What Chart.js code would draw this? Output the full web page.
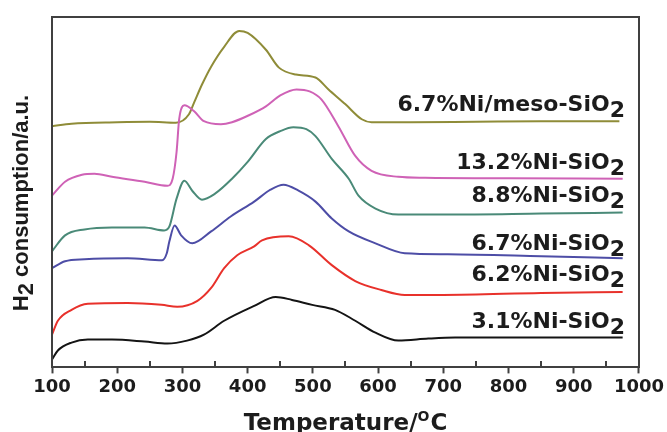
<!DOCTYPE html>
<html>
<head>
<meta charset="utf-8">
<script src="https://cdn.jsdelivr.net/npm/chart.js@4.4.1/dist/chart.umd.min.js"></script>
<style>body { margin: 0; }</style>
</head>
<body>
<canvas id="chart" width="667" height="432"></canvas>
<script>
// Series names (last character "2" is drawn as a subscript)
const names = ['3.1%Ni-SiO2', '6.2%Ni-SiO2', '6.7%Ni-SiO2', '8.8%Ni-SiO2', '13.2%Ni-SiO2', '6.7%Ni/meso-SiO2'];
const colors = ['#141414', '#e8312b', '#4d4da6', '#4a8a78', '#cf62b6', '#8f8c38'];

// Temperatures (°C) and H2 signal (a.u., curves already offset)
const t31 = [100, 109, 130, 155, 192, 242, 277, 307, 333, 364, 410, 443, 468, 499, 534, 565, 596, 631, 677, 718, 850, 975];
const v31 = [8, 17, 25, 28, 28, 26, 24, 27, 33, 47, 62, 71, 68, 63, 58, 47, 35, 27, 29, 30, 30, 30];

const t62 = [100, 109, 130, 155, 216, 268, 292, 323, 344, 364, 384, 410, 422, 463, 494, 529, 565, 605, 641, 700, 850, 975];
const v62 = [33, 47, 58, 64, 65, 63, 61, 67, 80, 100, 113, 122, 128, 132, 123, 103, 87, 78, 73, 73, 75, 76];

const t67 = [100, 120, 150, 216, 269, 276, 280, 288, 298, 315, 344, 374, 410, 435, 455, 478, 504, 529, 555, 596, 641, 707, 850, 975];
const v67 = [100, 107, 109, 110, 108, 115, 127, 143, 133, 125, 137, 152, 167, 179, 184, 178, 167, 150, 137, 125, 115, 114, 112, 110];

const t88 = [100, 120, 150, 192, 242, 272, 280, 291, 303, 315, 330, 350, 376, 400, 428, 450, 470, 490, 504, 529, 555, 570, 596, 631, 707, 850, 975];
const v88 = [117, 133, 139, 141, 141, 138, 142, 170, 188, 178, 169, 175, 190, 207, 230, 238, 242, 240, 233, 210, 190, 173, 160, 154, 154, 155, 156];

const t132 = [100, 120, 146, 165, 192, 242, 277, 285, 291, 295, 303, 318, 333, 359, 376, 402, 428, 450, 475, 495, 513, 539, 565, 590, 631, 672, 800, 975];
const v132 = [173, 187, 194, 195, 192, 187, 183, 190, 217, 250, 264, 258, 248, 245, 247, 254, 263, 274, 280, 278, 270, 243, 213, 198, 192, 191, 190.5, 190];

const tMeso = [100, 130, 200, 250, 290, 310, 318, 330, 344, 364, 387, 400, 428, 448, 474, 504, 524, 550, 575, 590, 650, 750, 850, 970];
const vMeso = [243, 245.5, 247, 247.5, 246.5, 255, 267, 285, 303, 323, 339, 337, 320, 302, 295, 292, 280, 265, 250, 247, 247, 247.5, 248, 248];

const temps = [t31, t62, t67, t88, t132, tMeso];
const values = [v31, v62, v67, v88, v132, vMeso];

// Where each curve label sits (value on the y scale for its baseline)
const labelLevels = [40, 87, 118, 167, 200, 258];

const xTicks = { min: 100, max: 1000, step: 100, minor: 50 };
const yRange = { min: 0, max: 353 };
const axisColor = '#404040';

const datasets = names.map((name, i) => ({
    label: name,
    data: temps[i].map((t, j) => ({ x: t, y: values[i][j] })),
    borderColor: colors[i],
    borderWidth: 2,
    pointRadius: 0,
    cubicInterpolationMode: 'monotone',
    fill: false
}));

const decorations = {
    id: 'decorations',
    afterDraw(chart) {
        const ctx = chart.ctx;
        const xs = chart.scales.x;
        const ys = chart.scales.y;
        const left = Math.round(xs.getPixelForValue(xTicks.min));
        const right = Math.round(xs.getPixelForValue(xTicks.max));
        const top = Math.round(ys.getPixelForValue(yRange.max));
        const bottom = Math.round(ys.getPixelForValue(yRange.min));
        ctx.save();

        // frame
        ctx.fillStyle = axisColor;
        ctx.fillRect(left - 1, top - 1, right - left + 2, 2);
        ctx.fillRect(left - 1, bottom - 1, right - left + 2, 2);
        ctx.fillRect(left - 1, top - 1, 2, bottom - top + 2);
        ctx.fillRect(right - 1, top - 1, 2, bottom - top + 2);

        // minor ticks, pointing inside
        for (let t = xTicks.min + xTicks.minor; t < xTicks.max; t += xTicks.step) {
            const px = Math.round(xs.getPixelForValue(t));
            ctx.fillRect(px - 1, bottom - 6, 2, 6);
        }

        ctx.fillStyle = '#1c1c1c';
        ctx.textBaseline = 'alphabetic';

        // curve labels with subscript 2
        ctx.font = 'bold 22px "DejaVu Sans"';
        names.forEach((name, i) => {
            const main = name.slice(0, -1);
            const sub = name.slice(-1);
            const y = ys.getPixelForValue(labelLevels[i]);
            const rx = right - 14;
            const subW = ctx.measureText(sub).width;
            ctx.textAlign = 'right';
            ctx.fillText(main, rx - subW, y);
            ctx.fillText(sub, rx, y + 6);
        });

        // x title with superscript O
        ctx.textAlign = 'left';
        const big = 'bold 23px "DejaVu Sans"';
        const small = 'bold 14px "DejaVu Sans"';
        ctx.font = big;
        const w1 = ctx.measureText('Temperature/').width;
        const w3 = ctx.measureText('C').width;
        ctx.font = small;
        const w2 = ctx.measureText('O').width + 1;
        const x0 = (left + right) / 2 - (w1 + w2 + w3) / 2;
        ctx.font = big;
        ctx.fillText('Temperature/', x0, 430);
        ctx.font = small;
        ctx.fillText('O', x0 + w1, 421);
        ctx.font = big;
        ctx.fillText('C', x0 + w1 + w2, 430);

        // y title with subscript 2
        ctx.translate(28, (top + bottom) / 2 + 11);
        ctx.rotate(-Math.PI / 2);
        ctx.font = 'bold 22px "Liberation Sans"';
        const hW = ctx.measureText('H').width;
        const twoW = ctx.measureText('2').width;
        const restW = ctx.measureText(' consumption/a.u.').width;
        const s = -(hW + twoW + restW) / 2;
        ctx.fillText('H', s, 0);
        ctx.fillText('2', s + hW, 5);
        ctx.fillText(' consumption/a.u.', s + hW + twoW, 0);

        ctx.restore();
    }
};

new Chart(document.getElementById('chart'), {
    type: 'line',
    data: { datasets: datasets },
    options: {
        responsive: false,
        animation: false,
        layout: { padding: { left: 52, top: 17, right: 25, bottom: 31 } },
        plugins: {
            legend: { display: false },
            tooltip: { enabled: false }
        },
        scales: {
            x: {
                type: 'linear',
                min: xTicks.min,
                max: xTicks.max,
                ticks: {
                    stepSize: xTicks.step,
                    color: '#1c1c1c',
                    padding: 3,
                    font: { family: 'DejaVu Sans', size: 18, weight: 'bold' },
                    callback: v => String(v)
                },
                grid: { drawOnChartArea: false, tickLength: 6, tickColor: axisColor, tickWidth: 2 },
                border: { display: true, color: axisColor, width: 2 }
            },
            y: { display: false, min: yRange.min, max: yRange.max }
        }
    },
    plugins: [decorations]
});
</script>
</body>
</html>
